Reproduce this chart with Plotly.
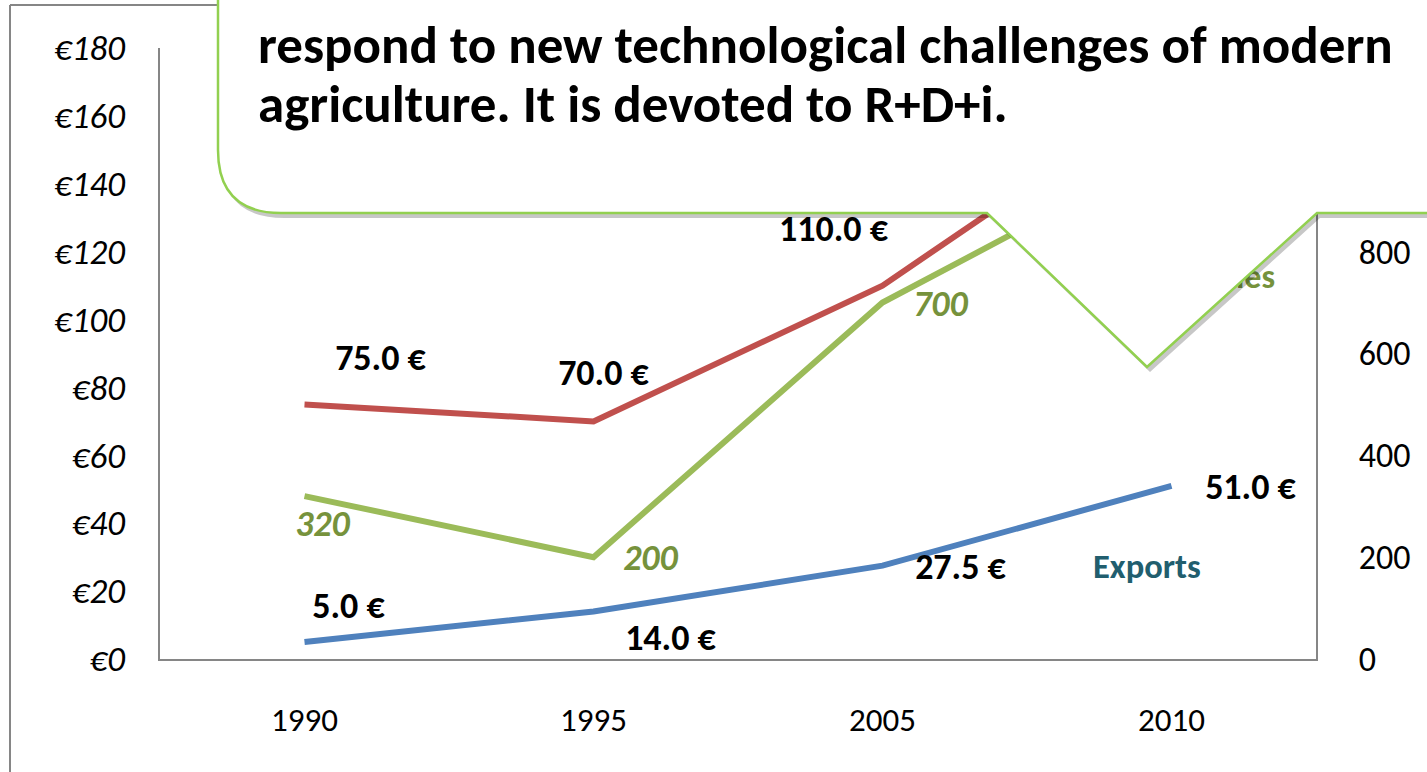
import plotly.graph_objects as go

# ---------------- data ----------------
years = ["1990", "1995", "2005", "2010"]
red_values = [75.0, 70.0, 110.0, 168.0]        # left axis (€)
green_values = [320, 200, 700, 1000]           # right axis
blue_values = [5.0, 14.0, 27.5, 51.0]          # left axis (€) - Exports
left_ticks = [0, 20, 40, 60, 80, 100, 120, 140, 160, 180]
right_ticks = [0, 200, 400, 600, 800]
callout_lines = ["respond to new technological challenges of modern",
                 "agriculture. It is devoted to R+D+i."]
# labels of the 2010 red/green points sit behind the callout in the reference
red_label_shown = [True, True, True, False]
green_label_shown = [True, True, True, False]

# ---------------- layout geometry (pixels) ----------------
W, H = 1427, 772
PX0, PX1, PY0, PY1 = 160, 1316, 48, 659   # plot area left, right, top, bottom
XPU = (PX1 - PX0) / 4.0                   # px per category
YPU_L = (PY1 - PY0) / 180.0
YPU_R = (PY1 - PY0) / 1200.0

FONT = "Carlito, Lato, 'Open Sans', sans-serif"
RED, GREEN, BLUE = "#C0504D", "#9BBB59", "#4F81BD"
GREEN_TXT = "#76923C"
AXIS = "#868686"
LBL = 36

x_idx = list(range(len(years)))

# label offsets in pixels (dx right, dy up)
red_off = [(76, 43), (10, 45), (-49, 54), (-49, 54)]
green_off = [(18, -31), (57, -4), (58, -4), (58, -4)]
blue_off = [(44, 33), (77, -30), (78, -4), (79, -4)]


def off_pts(vals, offs, ypu):
    xs = [i + dx / XPU for i, (dx, dy) in zip(x_idx, offs)]
    ys = [v + dy / ypu for v, (dx, dy) in zip(vals, offs)]
    return xs, ys


fig = go.Figure()

line_w = 6
fig.add_trace(go.Scatter(x=x_idx, y=red_values, mode="lines",
                         line=dict(color=RED, width=line_w), yaxis="y"))
fig.add_trace(go.Scatter(x=x_idx, y=green_values, mode="lines",
                         line=dict(color=GREEN, width=line_w), yaxis="y2"))
fig.add_trace(go.Scatter(x=x_idx, y=blue_values, mode="lines",
                         line=dict(color=BLUE, width=line_w), yaxis="y"))

# data labels (as text traces so the callout can cover them)
rx, ry = off_pts(red_values, red_off, YPU_L)
fig.add_trace(go.Scatter(x=rx, y=ry, mode="text", yaxis="y", cliponaxis=False,
                         text=[f"<b>{v:.1f} €</b>" if s else ""
                               for v, s in zip(red_values, red_label_shown)],
                         textfont=dict(family=FONT, size=LBL, color="black")))
bx, by = off_pts(blue_values, blue_off, YPU_L)
fig.add_trace(go.Scatter(x=bx, y=by, mode="text", yaxis="y", cliponaxis=False,
                         text=[f"<b>{v:.1f} €</b>" for v in blue_values],
                         textfont=dict(family=FONT, size=LBL, color="black")))
gx, gy = off_pts(green_values, green_off, YPU_R)
fig.add_trace(go.Scatter(x=gx, y=gy, mode="text", yaxis="y2", cliponaxis=False,
                         text=[f"<b><i>{v:.0f}</i></b>" if s else ""
                               for v, s in zip(green_values, green_label_shown)],
                         textfont=dict(family=FONT, size=LBL, color=GREEN_TXT)))

# series name for green line (mostly hidden behind the callout)
fig.add_trace(go.Scatter(x=[(1275 - PX0) / XPU - 0.5], y=[(PY1 - 279) / YPU_L],
                         mode="text", yaxis="y", cliponaxis=False,
                         text=["<b>Companies</b>"], textposition="middle left",
                         textfont=dict(family=FONT, size=34, color=GREEN_TXT)))


def px(x):
    return (x - PX0) / (PX1 - PX0)


def py(y):
    return (PY1 - y) / (PY1 - PY0)


def callout_path(ox=0, oy=0):
    s = f"M {px(218+ox)},{py(-40+oy)} L {px(218+ox)},{py(150+oy)} "
    s += f"Q {px(218+ox)},{py(213+oy)} {px(281+ox)},{py(213+oy)} "
    for (a, b) in [(987, 213), (1147, 367), (1317, 213), (1460, 213), (1460, -40)]:
        s += f"L {px(a+ox)},{py(b+oy)} "
    s += "Z"
    return s


shapes = [
    # outer chart border (left and top)
    dict(type="line", xref="paper", yref="paper", x0=px(10), x1=px(10),
         y0=py(5), y1=py(800), line=dict(color=AXIS, width=2), layer="below"),
    dict(type="line", xref="paper", yref="paper", x0=px(10), x1=px(1440),
         y0=py(5), y1=py(5), line=dict(color=AXIS, width=2), layer="below"),
    # callout shadow
    dict(type="path", xref="paper", yref="paper", path=callout_path(3, 5),
         fillcolor="rgba(0,0,0,0.22)", line=dict(width=0), layer="above"),
    # callout
    dict(type="path", xref="paper", yref="paper", path=callout_path(),
         fillcolor="white", line=dict(color="#92D050", width=2.5), layer="above"),
]

annotations = [
    dict(xref="paper", yref="paper", x=px(256), y=py(45), xanchor="left", yanchor="middle",
         text=f"<b>{callout_lines[0]}</b>", showarrow=False,
         font=dict(family=FONT, size=53, color="black")),
    dict(xref="paper", yref="paper", x=px(256), y=py(104), xanchor="left", yanchor="middle",
         text=f"<b>{callout_lines[1]}</b>", showarrow=False,
         font=dict(family=FONT, size=53, color="black")),
    dict(xref="paper", yref="paper", x=px(1147), y=py(566), xanchor="center", yanchor="middle",
         text="<b>Exports</b>", showarrow=False,
         font=dict(family=FONT, size=34.5, color="#215E6E")),
]

fig.update_layout(
    width=W, height=H, autosize=False,
    margin=dict(l=PX0, r=W - PX1, t=PY0, b=H - PY1, pad=0, autoexpand=False),
    paper_bgcolor="white", plot_bgcolor="white",
    showlegend=False,
    shapes=shapes, annotations=annotations,
    xaxis=dict(range=[-0.5, 3.5], tickvals=x_idx, ticktext=years, automargin=False,
               showgrid=False, zeroline=False, showline=True, linecolor=AXIS, linewidth=2,
               ticks="outside", ticklen=30, tickcolor="rgba(0,0,0,0)",
               tickfont=dict(family=FONT, size=33, color="black"), fixedrange=True),
    yaxis=dict(range=[0, 180], tickvals=left_ticks, automargin=False,
               ticktext=[f"<i>€{v}</i>" for v in left_ticks],
               showgrid=False, zeroline=False, showline=True, linecolor=AXIS, linewidth=2,
               ticks="outside", ticklen=26, tickcolor="rgba(0,0,0,0)",
               tickfont=dict(family=FONT, size=35, color="black")),
    yaxis2=dict(range=[0, 1200], tickvals=right_ticks, overlaying="y", side="right",
                automargin=False,
                showgrid=False, zeroline=False, showline=True, linecolor=AXIS, linewidth=2,
                ticks="outside", ticklen=34, tickcolor="rgba(0,0,0,0)",
                tickfont=dict(family=FONT, size=34, color="black")),
)

fig.write_html("out.html", config={"displayModeBar": False},
               post_script="document.body.style.margin='0';document.body.style.overflow='hidden';")
